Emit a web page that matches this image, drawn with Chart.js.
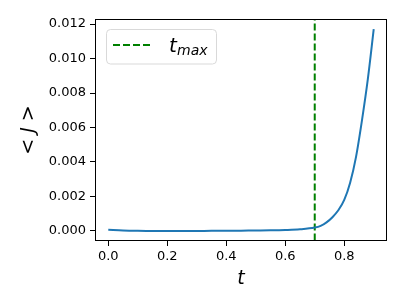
<!DOCTYPE html>
<html>
<head>
<meta charset="utf-8">
<script src="https://cdn.jsdelivr.net/npm/chart.js@4/dist/chart.umd.min.js"></script>
<style>
  html, body { margin: 0; padding: 0; background: #fff; }
  #wrap { width: 407px; height: 305px; }
</style>
</head>
<body>
<div id="wrap"><canvas id="chart" width="407" height="305"></canvas></div>
<script>
// time values and the mean <J>
var tValues = [0, 0.05, 0.1, 0.15, 0.2, 0.25, 0.3, 0.35, 0.4, 0.45, 0.5, 0.55, 0.6, 0.65,
  0.7, 0.72, 0.74, 0.76, 0.78, 0.8, 0.82, 0.84, 0.86, 0.88, 0.9];
var jValues = [0.00007, 0.00003, 0.00001, 0.0, 0.0, 0.0, 0.0, 0.00001, 0.00001, 0.00002, 0.00003, 0.00004, 0.00006, 0.0001,
  0.0002, 0.0003, 0.0005, 0.0008, 0.0012, 0.0018, 0.0028, 0.0043, 0.0064, 0.0088, 0.0117];

// t_max marker (vertical line, clipped to the plot area)
var tMax = 0.7;
var tMaxLine = [-1, 1];

var xTicks = [0, 0.2, 0.4, 0.6, 0.8];
var yTicks = [0, 0.002, 0.004, 0.006, 0.008, 0.010, 0.012];

var FONT = "'DejaVu Sans', sans-serif";

var frame = {
  id: 'frame',
  afterDatasetsDraw: function(chart) {
    var a = chart.chartArea, ctx = chart.ctx;
    ctx.save();
    ctx.strokeStyle = '#000';
    ctx.lineWidth = 1;
    ctx.strokeRect(Math.round(a.left) + 0.5, Math.round(a.top) + 0.5,
      Math.round(a.right - a.left) - 1, Math.round(a.bottom - a.top) - 1);
    ctx.restore();
  }
};

// legend with subscript label
var legendBox = {
  id: 'legendBox',
  afterDraw: function(chart) {
    var ctx = chart.ctx;
    var x = 106, y = 29.5, w = 110, h = 34.5, r = 4;
    ctx.save();
    ctx.beginPath();
    ctx.roundRect(x + 0.5, y, w, h, r);
    ctx.fillStyle = 'rgba(255,255,255,0.8)';
    ctx.fill();
    ctx.strokeStyle = '#d9d9d9';
    ctx.lineWidth = 1;
    ctx.stroke();

    ctx.beginPath();
    ctx.setLineDash([7, 3]);
    ctx.strokeStyle = '#008000';
    ctx.lineWidth = 2;
    ctx.moveTo(113, 45);
    ctx.lineTo(153, 45);
    ctx.stroke();
    ctx.setLineDash([]);

    ctx.fillStyle = '#000';
    ctx.textBaseline = 'alphabetic';
    ctx.font = 'italic 20px ' + FONT;
    ctx.fillText('t', 169, 52);
    ctx.font = 'italic 14px ' + FONT;
    ctx.fillText('max', 177, 55);
    ctx.restore();
  }
};

new Chart(document.getElementById('chart'), {
  type: 'line',
  data: {
    datasets: [{
      data: tValues.map(function(t, i) { return { x: t, y: jValues[i] }; }),
      borderColor: '#1f77b4',
      borderWidth: 2,
      pointRadius: 0,
      fill: false,
      cubicInterpolationMode: 'monotone'
    }, {
      data: tMaxLine.map(function(v) { return { x: tMax, y: v }; }),
      borderColor: '#008000',
      borderWidth: 2,
      borderDash: [7, 3],
      pointRadius: 0,
      fill: false
    }]
  },
  options: {
    responsive: false,
    animation: false,
    events: [],
    layout: { padding: { left: 0, top: 19, right: 20, bottom: 0 } },
    plugins: { legend: { display: false }, tooltip: { enabled: false } },
    scales: {
      x: {
        type: 'linear',
        min: -0.045,
        max: 0.945,
        afterFit: function(s) { s.height = 64; },
        afterBuildTicks: function(s) { s.ticks = xTicks.map(function(v) { return { value: v }; }); },
        ticks: {
          color: '#000',
          font: { family: FONT, size: 13 },
          padding: 3,
          maxRotation: 0,
          callback: function(v) { return v.toFixed(1); }
        },
        grid: { drawOnChartArea: false, drawTicks: true, tickLength: 5, color: '#000' },
        border: { display: false },
        title: {
          display: true,
          text: 't',
          color: '#000',
          font: { family: FONT, size: 19, style: 'italic' },
          padding: { top: 0, bottom: 15 }
        }
      },
      y: {
        min: -0.00058,
        max: 0.01229,
        afterFit: function(s) { s.width = 95; },
        afterBuildTicks: function(s) { s.ticks = yTicks.map(function(v) { return { value: v }; }); },
        ticks: {
          color: '#000',
          font: { family: FONT, size: 13 },
          padding: 4,
          callback: function(v) { return v.toFixed(3); }
        },
        grid: { drawOnChartArea: false, drawTicks: true, tickLength: 5, color: '#000' },
        border: { display: false },
        title: {
          display: true,
          text: '< J >',
          color: '#000',
          font: { family: FONT, size: 19, style: 'italic' },
          padding: { top: 18, bottom: 0 }
        }
      }
    }
  },
  plugins: [frame, legendBox]
});
</script>
</body>
</html>
